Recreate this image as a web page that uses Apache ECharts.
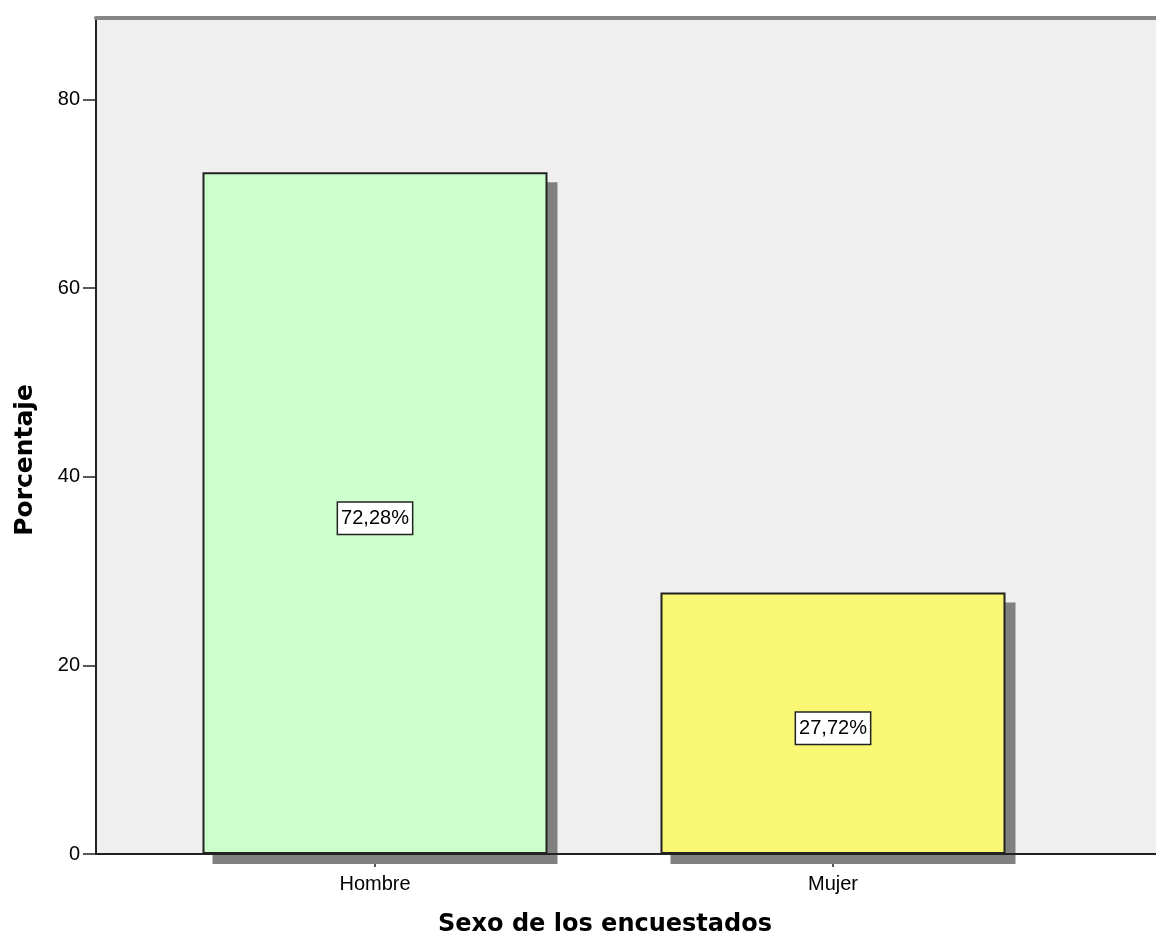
<!DOCTYPE html>
<html>
<head>
<meta charset="utf-8">
<script src="https://cdn.jsdelivr.net/npm/echarts@6/dist/echarts.min.js"></script>
<style>
  html, body { margin: 0; padding: 0; background: #ffffff; }
  #chart { width: 1156px; height: 940px; }
</style>
</head>
<body>
<div id="chart"></div>
<script>
// Sexo de los encuestados: percentage per category
const categorias = ['Hombre', 'Mujer'];
const porcentajes = [72.28, 27.72];
const coloresBarras = ['#ccffcc', '#faf774'];
const ticksY = [0, 20, 40, 60, 80];

const Y_MAX = 88.64;
const SHADOW = 10; // drop-shadow offset of the bars, px
const fmtPct = v => v.toFixed(2).replace('.', ',') + '%';

const chart = echarts.init(document.getElementById('chart'), null, { renderer: 'canvas' });

const tickFont = { fontFamily: 'Liberation Sans, Arial, sans-serif', fontSize: 20, color: '#000' };
const barGrid = { left: 146, right: 94, top: 18, bottom: 86 };

chart.setOption({
  animation: false,
  grid: [
    // frame with grey background and the axes lines
    { left: 96, right: 0, top: 18, bottom: 86, show: true, backgroundColor: '#efefef', borderWidth: 0 },
    // bars
    barGrid,
    // same scale, shifted for the drop shadow
    { left: barGrid.left + SHADOW, right: barGrid.right - SHADOW,
      top: barGrid.top + SHADOW, bottom: barGrid.bottom - SHADOW }
  ],
  xAxis: [
    {
      gridIndex: 0, type: 'value', min: 0, max: 1, position: 'bottom', z: 5,
      axisLine: { show: true, lineStyle: { color: '#222', width: 2 } },
      axisTick: { show: false }, axisLabel: { show: false }, splitLine: { show: false }
    },
    {
      gridIndex: 0, type: 'value', min: 0, max: 1, position: 'top',
      axisLine: { show: true, lineStyle: { color: '#858585', width: 4 } },
      axisTick: { show: false }, axisLabel: { show: false }, splitLine: { show: false }
    },
    {
      gridIndex: 1, type: 'category', data: categorias, position: 'bottom',
      axisLine: { show: false },
      axisTick: { show: true, alignWithLabel: true, length: 13, lineStyle: { color: '#222', width: 1.5 } },
      axisLabel: Object.assign({ margin: 20 }, tickFont)
    },
    {
      gridIndex: 2, type: 'category', data: categorias, show: false
    }
  ],
  yAxis: [
    {
      gridIndex: 0, type: 'value', min: 0, max: Y_MAX, interval: 20,
      axisLine: { show: true, lineStyle: { color: '#222', width: 2 } },
      axisTick: { show: true, length: 13, lineStyle: { color: '#222', width: 1.5 } },
      axisLabel: Object.assign({ margin: 16, showMaxLabel: false,
        formatter: v => (ticksY.includes(v) ? String(v) : '') }, tickFont),
      splitLine: { show: false }
    },
    { gridIndex: 1, type: 'value', min: 0, max: Y_MAX, show: false },
    { gridIndex: 2, type: 'value', min: 0, max: Y_MAX, show: false }
  ],
  series: [
    {
      // drop shadow
      type: 'bar',
      xAxisIndex: 3,
      yAxisIndex: 2,
      barWidth: 345,
      z: 1,
      silent: true,
      data: porcentajes,
      itemStyle: { color: '#808080' }
    },
    {
      type: 'bar',
      xAxisIndex: 2,
      yAxisIndex: 1,
      barWidth: 345,
      z: 2,
      data: porcentajes.map((v, i) => ({
        value: v,
        itemStyle: { color: coloresBarras[i] }
      })),
      itemStyle: {
        borderColor: '#222',
        borderWidth: 2
      },
      label: {
        show: true,
        position: 'inside',
        offset: [0, 5],
        formatter: p => fmtPct(p.value),
        fontFamily: 'Liberation Sans, Arial, sans-serif',
        fontSize: 20,
        color: '#000',
        backgroundColor: '#ffffff',
        borderColor: '#222',
        borderWidth: 1.5,
        padding: [6, 3, 5, 3]
      }
    }
  ],
  graphic: [
    {
      type: 'text', x: 25, y: 460, rotation: Math.PI / 2,
      style: { text: 'Porcentaje', font: 'bold 25px "DejaVu Sans", sans-serif', fill: '#000',
        textAlign: 'center', textVerticalAlign: 'middle' }
    },
    {
      type: 'text', x: 605, y: 925,
      style: { text: 'Sexo de los encuestados', font: 'bold 24px "DejaVu Sans", sans-serif', fill: '#000',
        textAlign: 'center', textVerticalAlign: 'middle' }
    }
  ]
});
</script>
</body>
</html>
